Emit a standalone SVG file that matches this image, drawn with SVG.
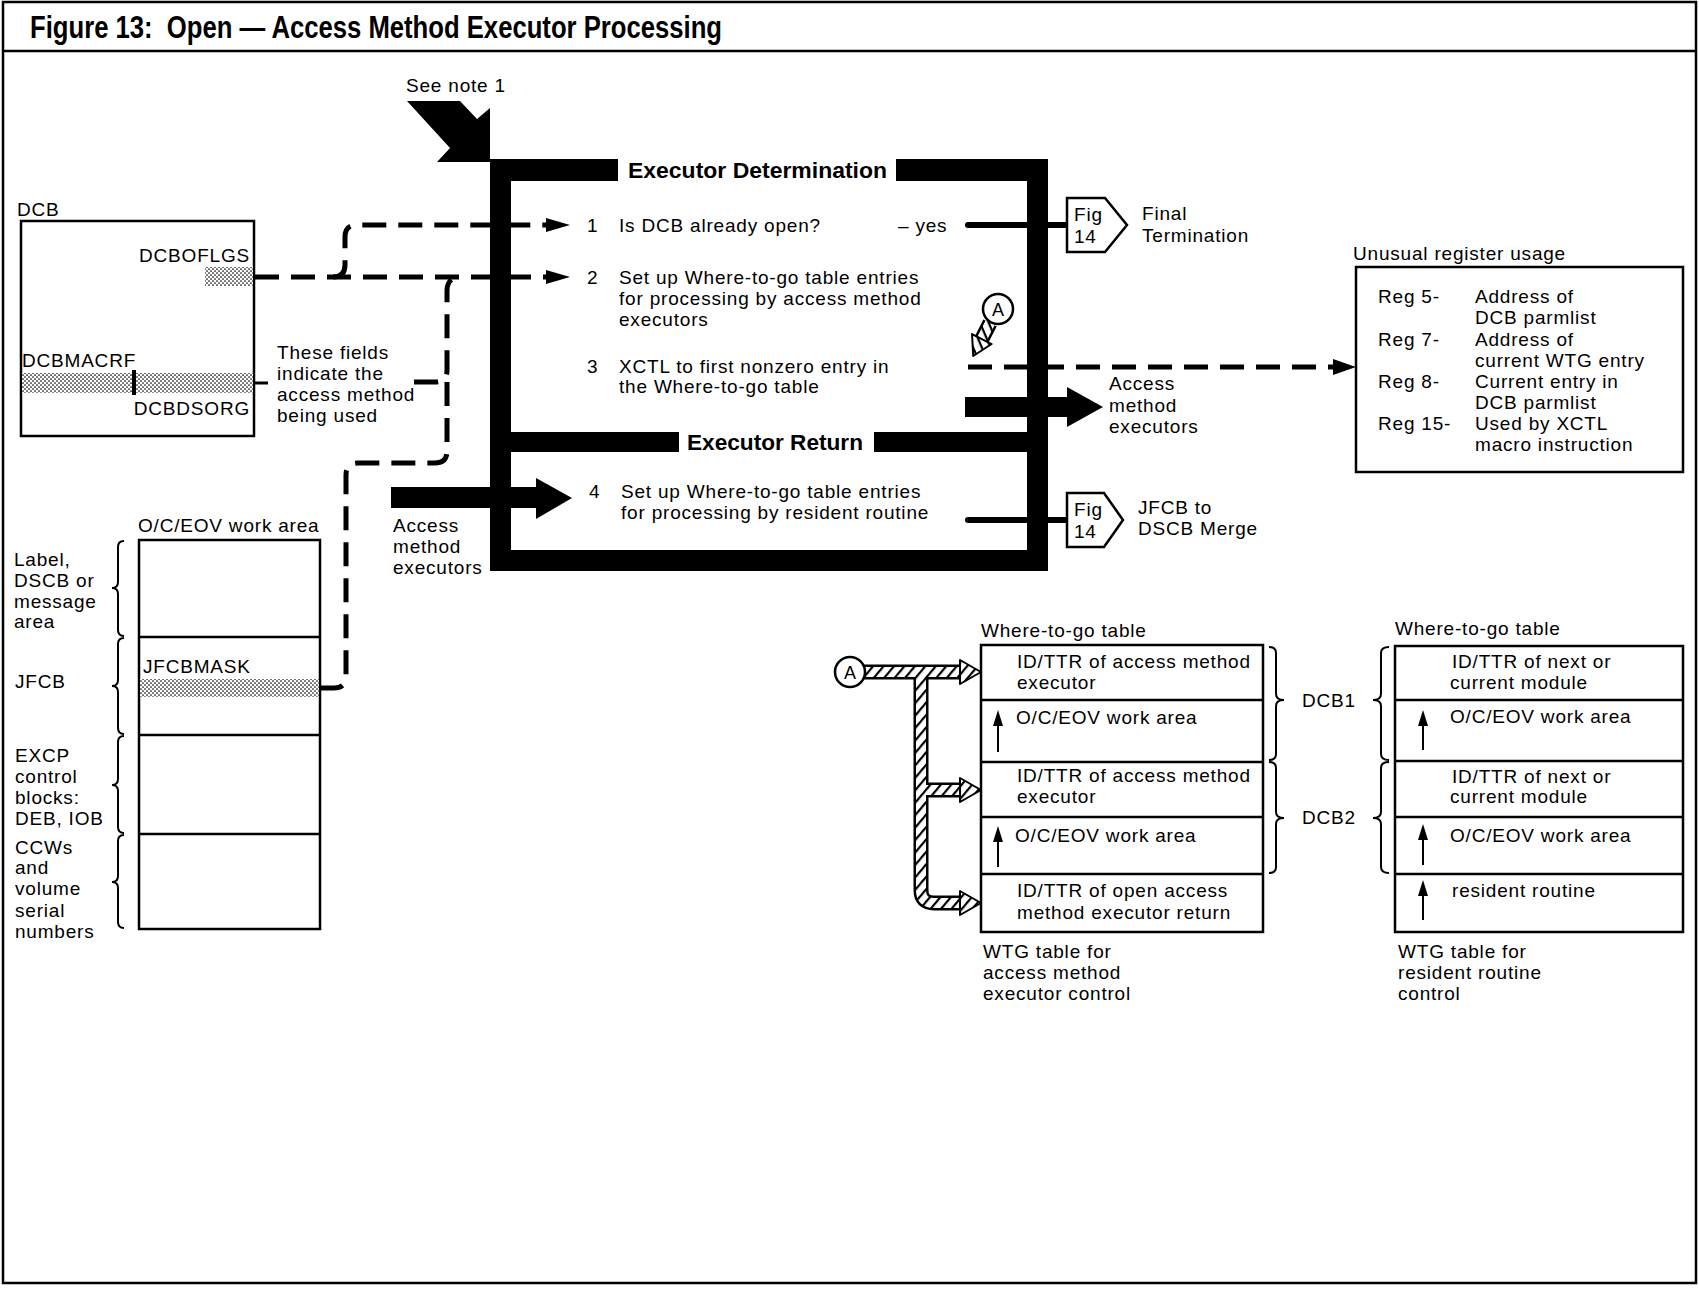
<svg xmlns="http://www.w3.org/2000/svg" width="1699" height="1291" viewBox="0 0 1699 1291">
  <style>
    .t { font-family: "Liberation Sans", Arial, sans-serif; font-size: 19px; letter-spacing: 0.8px; fill: #000; }
    .bold { font-weight: bold; letter-spacing: 0; }
    .title { font-size: 31px; }
    .head { font-size: 22px; }
    .ring { font-size: 18px; letter-spacing: 0; }
    .box { fill: #fff; stroke: #000; stroke-width: 2.5; }
    .rule { fill: none; stroke: #000; stroke-width: 2.5; }
    .dash { fill: none; stroke: #000; stroke-width: 5; stroke-dasharray: 24 12; }
    .solid { fill: none; stroke: #000; stroke-width: 6; stroke-linecap: round; }
    .brace { fill: none; stroke: #000; stroke-width: 2; }
    .bar { fill: #000; }
    .hatchOuter { fill: none; stroke: #000; stroke-width: 15; stroke-linejoin: round; }
    .hatchInner { fill: none; stroke: url(#hatch); stroke-width: 10; stroke-linejoin: round; }
    .hatchHead { fill: url(#hatch); stroke: #000; stroke-width: 2; stroke-linejoin: round; }
    .stipple { fill: url(#dots); stroke: none; }
  </style>
  <defs>
    <pattern id="hatch" patternUnits="userSpaceOnUse" width="8" height="8" patternTransform="rotate(40)">
      <rect width="8" height="8" fill="#fff"/>
      <line x1="1" y1="0" x2="1" y2="8" stroke="#000" stroke-width="2.4"/>
    </pattern>
    <pattern id="dots" patternUnits="userSpaceOnUse" width="4" height="4">
      <rect width="4" height="4" fill="#fff"/>
      <circle cx="1" cy="1" r="0.85" fill="#000"/>
      <circle cx="3" cy="3" r="0.85" fill="#000"/>
    </pattern>
  </defs>

  <rect width="1699" height="1291" fill="#fff"/>

  <!-- page frame and title bar -->
  <g id="frame">
    <rect x="3" y="2" width="1693" height="1281" fill="none" stroke="#000" stroke-width="2.5"/>
    <line x1="3" y1="51" x2="1696" y2="51" stroke="#000" stroke-width="2.5"/>
    <text class="t bold title" x="30" y="38" textLength="692" lengthAdjust="spacingAndGlyphs">Figure 13:&#160; Open — Access Method Executor Processing</text>
  </g>

  <!-- entry arrow -->
  <g id="note1">
    <text class="t" x="406" y="92">See note 1</text>
    <polygon class="bar" points="407,101 460,101 477,119 490,108 490,162 437,162 450,148"/>
  </g>

  <!-- connectors -->
  <g id="connectors">
    <path class="dash" d="M255,277 H550"/>
    <path class="dash" d="M333,277 Q345,277 345,265 V237 Q345,225 357,225 H550"/>
    <path class="dash" d="M414,382 H435 Q447,382 447,370 V291 Q447,277 461,277"/>
    <path class="dash" d="M447,382 V451 Q447,463 435,463 H358 Q346,463 346,475 V676 Q346,688 334,688 H321"/>
    <line x1="254" y1="383" x2="268" y2="383" stroke="#000" stroke-width="3"/>
    <polygon points="546,218 570,225 546,232" fill="#000"/>
    <polygon points="546,270 570,277 546,284" fill="#000"/>
    <path class="dash" d="M968,367 H1335"/>
    <polygon points="1333,359 1356,367 1333,375" fill="#000"/>
    <path class="solid" d="M968,225 H1067"/>
    <path class="solid" d="M968,520 H1067"/>
    <!-- thick flow arrows -->
    <rect class="bar" x="391" y="487" width="147" height="21"/>
    <polygon class="bar" points="536,478 572,498 536,519"/>
    <rect class="bar" x="965" y="397" width="104" height="20"/>
    <polygon class="bar" points="1067,387 1103,407 1067,427"/>
    <!-- hatched connector A to the where-to-go table -->
    <path class="hatchOuter" d="M864,672 H966 M921,672 V890 Q921,903 934,903 H966 M921,790 H966"/>
    <path class="hatchInner" d="M864,672 H966 M921,672 V890 Q921,903 934,903 H966 M921,790 H966"/>
    <polygon class="hatchHead" points="960,660 981,672 960,684"/>
    <polygon class="hatchHead" points="960,778 981,790 960,802"/>
    <polygon class="hatchHead" points="960,891 981,903 960,915"/>
  </g>

  <!-- DCB control block -->
  <g id="dcb">
    <text class="t" x="17" y="216">DCB</text>
    <rect class="box" x="21" y="221" width="233" height="215"/>
    <rect class="stipple" x="205" y="267" width="48" height="19"/>
    <text class="t" x="250" y="262" text-anchor="end">DCBOFLGS</text>
    <rect class="stipple" x="22" y="373" width="231" height="20"/>
    <line x1="134" y1="370" x2="134" y2="395" stroke="#000" stroke-width="4"/>
    <text class="t" x="22" y="367">DCBMACRF</text>
    <text class="t" x="250" y="415" text-anchor="end">DCBDSORG</text>
    <text class="t" x="277" y="359">These fields</text>
    <text class="t" x="277" y="380">indicate the</text>
    <text class="t" x="277" y="401">access method</text>
    <text class="t" x="277" y="422">being used</text>
  </g>

  <!-- main processing box -->
  <g id="executor">
    <rect class="bar" x="490" y="159" width="21" height="412"/>
    <rect class="bar" x="1027" y="159" width="21" height="412"/>
    <rect class="bar" x="490" y="159" width="128" height="22"/>
    <rect class="bar" x="896" y="159" width="152" height="22"/>
    <rect class="bar" x="511" y="432" width="168" height="20"/>
    <rect class="bar" x="874" y="432" width="153" height="20"/>
    <rect class="bar" x="490" y="550" width="558" height="21"/>
    <text class="t bold head" x="628" y="178" textLength="259" lengthAdjust="spacingAndGlyphs">Executor Determination</text>
    <text class="t bold head" x="687" y="450" textLength="176" lengthAdjust="spacingAndGlyphs">Executor Return</text>
    <text class="t" x="587" y="232">1</text>
    <text class="t" x="619" y="232">Is DCB already open?</text>
    <text class="t" x="898" y="232">– yes</text>
    <text class="t" x="587" y="284">2</text>
    <text class="t" x="619" y="284">Set up Where-to-go table entries</text>
    <text class="t" x="619" y="305">for processing by access method</text>
    <text class="t" x="619" y="326">executors</text>
    <text class="t" x="587" y="373">3</text>
    <text class="t" x="619" y="373">XCTL to first nonzero entry in</text>
    <text class="t" x="619" y="393">the Where-to-go table</text>
    <text class="t" x="589" y="498">4</text>
    <text class="t" x="621" y="498">Set up Where-to-go table entries</text>
    <text class="t" x="621" y="519">for processing by resident routine</text>
    <text class="t" x="393" y="532">Access</text>
    <text class="t" x="393" y="553">method</text>
    <text class="t" x="393" y="574">executors</text>
  </g>

  <!-- connector A inside the box -->
  <g id="connA1">
    <g transform="translate(990,323) rotate(117)">
      <path class="hatchOuter" d="M0,0 H20" stroke-linejoin="miter"/>
      <path class="hatchInner" d="M-1,0 H21"/>
      <polygon class="hatchHead" points="18,-11 37,0 18,11"/>
    </g>
    <circle cx="998" cy="309" r="15" fill="#fff" stroke="#000" stroke-width="2.5"/>
    <text class="t ring" x="998" y="315.5" text-anchor="middle">A</text>
  </g>

  <!-- off-page connectors -->
  <g id="fig14a">
    <polygon class="box" points="1067,198 1105,198 1127,225 1105,252 1067,252"/>
    <text class="t" x="1074" y="221">Fig</text>
    <text class="t" x="1074" y="243">14</text>
    <text class="t" x="1142" y="220">Final</text>
    <text class="t" x="1142" y="242">Termination</text>
  </g>
  <g id="fig14b">
    <polygon class="box" points="1067,493 1104,493 1123,520 1104,547 1067,547"/>
    <text class="t" x="1074" y="516">Fig</text>
    <text class="t" x="1074" y="538">14</text>
    <text class="t" x="1138" y="514">JFCB to</text>
    <text class="t" x="1138" y="535">DSCB Merge</text>
  </g>
  <g id="amexec">
    <text class="t" x="1109" y="390">Access</text>
    <text class="t" x="1109" y="412">method</text>
    <text class="t" x="1109" y="433">executors</text>
  </g>

  <!-- register usage -->
  <g id="registers">
    <text class="t" x="1353" y="260">Unusual register usage</text>
    <rect class="box" x="1356" y="267" width="327" height="205"/>
    <text class="t" x="1378" y="303">Reg 5-</text>
    <text class="t" x="1475" y="303">Address of</text>
    <text class="t" x="1475" y="324">DCB parmlist</text>
    <text class="t" x="1378" y="346">Reg 7-</text>
    <text class="t" x="1475" y="346">Address of</text>
    <text class="t" x="1475" y="367">current WTG entry</text>
    <text class="t" x="1378" y="388">Reg 8-</text>
    <text class="t" x="1475" y="388">Current entry in</text>
    <text class="t" x="1475" y="409">DCB parmlist</text>
    <text class="t" x="1378" y="430">Reg 15-</text>
    <text class="t" x="1475" y="430">Used by XCTL</text>
    <text class="t" x="1475" y="451">macro instruction</text>
  </g>

  <!-- O/C/EOV work area -->
  <g id="workarea">
    <text class="t" x="138" y="532">O/C/EOV work area</text>
    <rect class="box" x="139" y="540" width="181" height="389"/>
    <line class="rule" x1="139" y1="637" x2="320" y2="637"/>
    <line class="rule" x1="139" y1="735" x2="320" y2="735"/>
    <line class="rule" x1="139" y1="834" x2="320" y2="834"/>
    <rect class="stipple" x="140" y="679" width="179" height="18"/>
    <text class="t" x="143" y="673">JFCBMASK</text>
    <path class="brace" d="M124,541 Q118,541 118,547 V582 Q118,588 112,588 Q118,588 118,594 V630 Q118,636 124,636"/>
    <path class="brace" d="M124,638 Q118,638 118,644 V680 Q118,686 112,686 Q118,686 118,692 V728 Q118,734 124,734"/>
    <path class="brace" d="M124,736 Q118,736 118,742 V779 Q118,785 112,785 Q118,785 118,791 V827 Q118,833 124,833"/>
    <path class="brace" d="M124,835 Q118,835 118,841 V876 Q118,882 112,882 Q118,882 118,888 V922 Q118,928 124,928"/>
    <text class="t" x="14" y="566">Label,</text>
    <text class="t" x="14" y="587">DSCB or</text>
    <text class="t" x="14" y="608">message</text>
    <text class="t" x="14" y="628">area</text>
    <text class="t" x="15" y="688">JFCB</text>
    <text class="t" x="15" y="762">EXCP</text>
    <text class="t" x="15" y="783">control</text>
    <text class="t" x="15" y="804">blocks:</text>
    <text class="t" x="15" y="825">DEB, IOB</text>
    <text class="t" x="15" y="854">CCWs</text>
    <text class="t" x="15" y="874">and</text>
    <text class="t" x="15" y="895">volume</text>
    <text class="t" x="15" y="917">serial</text>
    <text class="t" x="15" y="938">numbers</text>
  </g>

  <!-- where-to-go table, access method executor control -->
  <g id="wtg1">
    <circle cx="850" cy="672" r="15" fill="#fff" stroke="#000" stroke-width="2.5"/>
    <text class="t ring" x="850" y="678.5" text-anchor="middle">A</text>
    <text class="t" x="981" y="637">Where-to-go table</text>
    <rect class="box" x="981" y="645" width="282" height="287"/>
    <line class="rule" x1="981" y1="700" x2="1263" y2="700"/>
    <line class="rule" x1="981" y1="762" x2="1263" y2="762"/>
    <line class="rule" x1="981" y1="817" x2="1263" y2="817"/>
    <line class="rule" x1="981" y1="874" x2="1263" y2="874"/>
    <text class="t" x="1017" y="668">ID/TTR of access method</text>
    <text class="t" x="1017" y="689">executor</text>
    <line x1="998" y1="752" x2="998" y2="722" stroke="#000" stroke-width="2"/>
    <polygon points="993,726 998,710 1003,726" fill="#000"/>
    <text class="t" x="1016" y="724">O/C/EOV work area</text>
    <text class="t" x="1017" y="782">ID/TTR of access method</text>
    <text class="t" x="1017" y="803">executor</text>
    <line x1="998" y1="867" x2="998" y2="838" stroke="#000" stroke-width="2"/>
    <polygon points="993,842 998,826 1003,842" fill="#000"/>
    <text class="t" x="1015" y="842">O/C/EOV work area</text>
    <text class="t" x="1017" y="897">ID/TTR of open access</text>
    <text class="t" x="1017" y="919">method executor return</text>
    <text class="t" x="983" y="958">WTG table for</text>
    <text class="t" x="983" y="979">access method</text>
    <text class="t" x="983" y="1000">executor control</text>
  </g>

  <!-- DCB grouping braces -->
  <g id="dcbgroups">
    <path class="brace" d="M1269,647 Q1276,647 1276,653 V694 Q1276,700 1284,700 Q1276,700 1276,706 V754 Q1276,760 1269,760"/>
    <path class="brace" d="M1269,762 Q1276,762 1276,768 V812 Q1276,818 1284,818 Q1276,818 1276,824 V867 Q1276,873 1269,873"/>
    <text class="t" x="1302" y="707">DCB1</text>
    <text class="t" x="1302" y="824">DCB2</text>
    <path class="brace" d="M1389,647 Q1381,647 1381,653 V694 Q1381,700 1373,700 Q1381,700 1381,706 V754 Q1381,760 1389,760"/>
    <path class="brace" d="M1389,762 Q1381,762 1381,768 V812 Q1381,818 1373,818 Q1381,818 1381,824 V867 Q1381,873 1389,873"/>
  </g>

  <!-- where-to-go table, resident routine control -->
  <g id="wtg2">
    <text class="t" x="1395" y="635">Where-to-go table</text>
    <rect class="box" x="1395" y="646" width="288" height="286"/>
    <line class="rule" x1="1395" y1="700" x2="1683" y2="700"/>
    <line class="rule" x1="1395" y1="761" x2="1683" y2="761"/>
    <line class="rule" x1="1395" y1="817" x2="1683" y2="817"/>
    <line class="rule" x1="1395" y1="874" x2="1683" y2="874"/>
    <text class="t" x="1452" y="668">ID/TTR of next or</text>
    <text class="t" x="1450" y="689">current module</text>
    <line x1="1423" y1="750" x2="1423" y2="722" stroke="#000" stroke-width="2"/>
    <polygon points="1418,726 1423,710 1428,726" fill="#000"/>
    <text class="t" x="1450" y="723">O/C/EOV work area</text>
    <text class="t" x="1452" y="783">ID/TTR of next or</text>
    <text class="t" x="1450" y="803">current module</text>
    <line x1="1423" y1="865" x2="1423" y2="836" stroke="#000" stroke-width="2"/>
    <polygon points="1418,840 1423,824 1428,840" fill="#000"/>
    <text class="t" x="1450" y="842">O/C/EOV work area</text>
    <line x1="1423" y1="920" x2="1423" y2="892" stroke="#000" stroke-width="2"/>
    <polygon points="1418,896 1423,880 1428,896" fill="#000"/>
    <text class="t" x="1452" y="897">resident routine</text>
    <text class="t" x="1398" y="958">WTG table for</text>
    <text class="t" x="1398" y="979">resident routine</text>
    <text class="t" x="1398" y="1000">control</text>
  </g>
</svg>
